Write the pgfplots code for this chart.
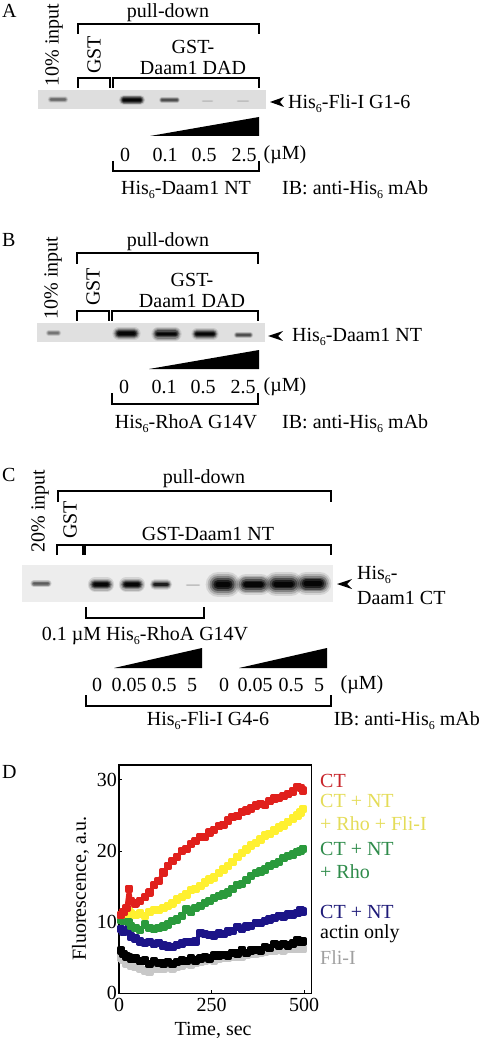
\documentclass[border=0pt]{standalone}
\usepackage{pgfplots}
\pgfplotsset{compat=1.18}
\usepackage{fontspec}
\setmainfont{Liberation Serif}
\definecolor{cRed}{HTML}{E0201C}
\definecolor{cYel}{HTML}{FFF030}
\definecolor{cGrn}{HTML}{2A9A3C}
\definecolor{cBlu}{HTML}{1C1488}
\definecolor{cGry}{HTML}{C8C8C8}
\definecolor{tRed}{HTML}{C8242A}
\definecolor{tYel}{HTML}{E4DC58}
\definecolor{tGrn}{HTML}{2E8B4A}
\definecolor{tBlu}{HTML}{1E1A78}
\definecolor{tGry}{HTML}{A0A0A0}
\newcommand{\six}{\raisebox{-4pt}{\fontsize{12}{12}\selectfont 6}}
\newcommand{\band}[5]{%
  \addplot[line cap=round, line width=#4*1.9, color=#5, opacity=.10, mark=none] coordinates {(#1,#3) (#2,#3)};
  \addplot[line cap=round, line width=#4*1.6, color=#5, opacity=.16, mark=none] coordinates {(#1,#3) (#2,#3)};
  \addplot[line cap=round, line width=#4*1.3, color=#5, opacity=.25, mark=none] coordinates {(#1,#3) (#2,#3)};
  \addplot[line cap=round, line width=#4*1.0, color=#5, opacity=.4, mark=none] coordinates {(#1,#3) (#2,#3)};
  \addplot[line cap=round, line width=#4*.7, color=#5, opacity=.6, mark=none] coordinates {(#1,#3) (#2,#3)};
  \addplot[line cap=round, line width=#4*.4, color=#5, opacity=.8, mark=none] coordinates {(#1,#3) (#2,#3)};
}
\pgfplotstableread{
t red yel grn blu blk gry
5 11 11 10.3 9 6 5
12 11.4 11.3 10.2 8.7 5.5 4.7
20 12 11.2 10.4 8.8 5.2 4.2
27 14.7 11.5 10 9.2 5.1 4.1
32 13 11.2 9.5 8 4.9 3.9
45 12.6 11 9.2 7.7 4.9 3.7
57 13 11.2 8.9 7.3 4.5 3.5
70 13.5 10.9 9.7 7.1 4.6 3.2
82 14.2 11.4 9.2 7.2 4.1 3.0
95 15.2 11.7 9 6.9 4.5 3.4
107 15.8 11.7 9.2 7.1 4.3 3.5
120 17 12 9.4 6.7 4.2 3.5
132 17.9 12.3 9.7 6.6 4.4 3.8
145 18.6 12.6 10.2 6.5 4.1 3.5
157 19.2 13.2 10.4 6.8 4.4 3.7
170 20 13.5 10.9 7 4.6 3.9
182 20.3 13.9 11.8 7.2 4.5 4.1
195 21 14.5 11.4 7.2 4.9 4
207 21.4 14.7 12 7.3 4.6 4.3
220 22 15.1 12.3 8.5 4.9 4.4
232 22 15.6 12.7 8.3 5.1 4.5
245 22.6 16 13 8.2 4.9 4.7
257 23 16.3 13.4 8.1 5.3 4.6
270 23.5 16.9 13.7 8.4 5.3 4.9
282 23.7 17.4 13.9 8.3 5.4 5
295 24.3 17.9 14.2 8.7 5.3 5
307 24.8 18.5 14.7 8.8 5.7 5.1
320 24.9 19.2 15.2 9.3 5.6 5.2
332 25.5 19.7 15.4 9 6.1 5.2
345 25.7 20.2 15.9 9.4 5.7 5.4
357 26 20.8 16.5 9.5 6 5.5
370 26.4 21.1 16.9 9.9 6.1 5.6
382 26.6 21.6 17.1 9.9 6 5.7
395 26.5 22.2 17.4 10.2 6.5 5.8
407 27 22.4 17.9 10.4 6.4 6
420 27.4 22.9 18.2 10.6 6.9 6
432 27.5 23.3 18.5 10.9 6.7 6.1
445 27.7 23.6 19 10.8 6.9 6
457 28 24.1 19.3 11.1 6.7 6.2
470 28.4 24.6 19.5 11.1 7 6.3
482 29 25 19.9 11.3 7.5 6.3
490 28.9 25.4 20 11.7 7.2 6.4
497 28.5 25.9 20.3 11.5 7.3 6.2
}\kinetics
\begin{document}
\begin{tikzpicture}
\useasboundingbox (0pt,0pt) rectangle (480pt,1040pt);
\begin{axis}[
  at={(0pt,0pt)}, anchor=south west,
  scale only axis, width=480pt, height=1040pt,
  xmin=0, xmax=480, ymin=0, ymax=1040, y dir=reverse,
  hide axis, clip=false,
  brk/.style={black, line width=1.3pt, mark=none, line join=miter},
  wedge/.style={black, fill=black, draw=none, mark=none},
  nodes={font=\fontsize{20}{20}\selectfont, inner sep=0pt, yshift=-2pt},
]
% panel A
\node[anchor=west] at (axis cs:2,9) {A};
\node[rotate=90] at (axis cs:54,43) {10\% input};
\node at (axis cs:168,11) {pull-down};
\addplot[brk] coordinates {(78,34) (78,24) (259,24) (259,34)};
\node[rotate=90] at (axis cs:94,53) {GST};
\node at (axis cs:193,45) {GST-};
\node at (axis cs:193,66) {Daam1 DAD};
\addplot[brk] coordinates {(78,88) (78,78) (110,78) (110,88)};
\addplot[brk] coordinates {(113,88) (113,78) (259,78) (259,88)};
\addplot[fill=black!13, draw=none, mark=none] coordinates {(38,90) (266,90) (266,109) (38,109)} --cycle;
\band{51}{65}{99.5}{3.5}{black!60}
\band{124}{140}{100}{5.5}{black}
\band{162}{177}{100}{3.2}{black!70}
\band{203}{212}{101}{1.4}{black!25}
\band{238}{248}{101}{1.4}{black!25}
\addplot[wedge] coordinates {(270,102) (284,97) (280,102) (284,107)} --cycle;
\node[anchor=west] at (axis cs:288,102) {His\six-Fli-I G1-6};
\addplot[wedge] coordinates {(150,136) (259,117) (259,136)} --cycle;
\node at (axis cs:125,153) {0};
\node at (axis cs:165,153) {0.1};
\node at (axis cs:204,153) {0.5};
\node at (axis cs:244,153) {2.5};
\node at (axis cs:285,153) {(µM)};
\addplot[brk] coordinates {(113,161) (113,171) (259,171) (259,161)};
\node at (axis cs:186,188) {His\six-Daam1 NT};
\node[anchor=west] at (axis cs:282,188) {IB: anti-His\six{} mAb};
% panel B
\node[anchor=west] at (axis cs:2,238) {B};
\node[rotate=90] at (axis cs:53,276) {10\% input};
\node at (axis cs:168,240) {pull-down};
\addplot[brk] coordinates {(77,264) (77,253) (258,253) (258,264)};
\node[rotate=90] at (axis cs:93,285) {GST};
\node at (axis cs:192,278) {GST-};
\node at (axis cs:192,299) {Daam1 DAD};
\addplot[brk] coordinates {(77,321) (77,311) (109,311) (109,321)};
\addplot[brk] coordinates {(112,321) (112,311) (258,311) (258,321)};
\addplot[fill=black!12, draw=none, mark=none] coordinates {(37,323) (265,323) (265,342) (37,342)} --cycle;
\band{49}{58}{333}{3.5}{black!55}
\band{119}{134}{333.5}{7}{black}
\band{158}{175}{334}{7}{black}
\band{197}{213}{334}{6}{black}
\band{237}{250}{335}{3.5}{black!70}
\addplot[wedge] coordinates {(268,336) (283,331) (278,336) (283,341)} --cycle;
\node[anchor=west] at (axis cs:292,335) {His\six-Daam1 NT};
\addplot[wedge] coordinates {(149,369) (259,350) (259,369)} --cycle;
\node at (axis cs:124,385) {0};
\node at (axis cs:164,385) {0.1};
\node at (axis cs:203,385) {0.5};
\node at (axis cs:243,385) {2.5};
\node at (axis cs:285,385) {(µM)};
\addplot[brk] coordinates {(112,393) (112,404) (258,404) (258,393)};
\node at (axis cs:186,422) {His\six-RhoA G14V};
\node[anchor=west] at (axis cs:282,422) {IB: anti-His\six{} mAb};
% panel C
\node[anchor=west] at (axis cs:2,473) {C};
\node[rotate=90] at (axis cs:40,509) {20\% input};
\node at (axis cs:204,477) {pull-down};
\addplot[brk] coordinates {(58,502) (58,491) (331,491) (331,502)};
\node[rotate=90] at (axis cs:70,518) {GST};
\node at (axis cs:208,532) {GST-Daam1 NT};
\addplot[brk] coordinates {(57,555) (57,545) (83,545) (83,555)};
\addplot[brk] coordinates {(85,555) (85,545) (331,545) (331,555)};
\addplot[fill=black!7, draw=none, mark=none] coordinates {(22,565) (333,565) (333,602) (22,602)} --cycle;
\band{34}{48}{583.5}{4}{black!65}
\band{95}{107}{584.5}{7.5}{black}
\band{126}{138}{584.5}{7.5}{black}
\band{155}{167}{584.5}{5.5}{black!90}
\band{187}{199}{585}{1.4}{black!25}
\band{218}{228}{584.5}{13}{black}
\band{246}{261}{584.5}{11}{black}
\band{276}{291}{584}{12.5}{black}
\band{306}{320}{583.5}{12}{black}
\addplot[wedge] coordinates {(337,584) (352,579) (347,584) (352,589)} --cycle;
\node[anchor=west] at (axis cs:357,573) {His\six-};
\node[anchor=west] at (axis cs:357,596) {Daam1 CT};
\addplot[brk] coordinates {(86,607) (86,618) (204,618) (204,607)};
\node at (axis cs:145,634) {0.1 µM His\six-RhoA G14V};
\addplot[wedge] coordinates {(114,668) (202,648) (202,668)} --cycle;
\addplot[wedge] coordinates {(239,668) (327,648) (327,668)} --cycle;
\node at (axis cs:97,683) {0};
\node at (axis cs:129,683) {0.05};
\node at (axis cs:164,683) {0.5};
\node at (axis cs:192,683) {5};
\node at (axis cs:224,683) {0};
\node at (axis cs:255,683) {0.05};
\node at (axis cs:291,683) {0.5};
\node at (axis cs:319,683) {5};
\node at (axis cs:362,683) {(µM)};
\addplot[brk] coordinates {(86,695) (86,706) (331,706) (331,695)};
\node at (axis cs:208,719) {His\six-Fli-I G4-6};
\node[anchor=east] at (axis cs:480,719) {IB: anti-His\six{} mAb};
% panel D labels
\node[anchor=west] at (axis cs:2,770) {D};
\node[anchor=west, text=tRed] at (axis cs:320,779) {CT};
\node[anchor=west, text=tYel] at (axis cs:320,799) {CT + NT};
\node[anchor=west, text=tYel] at (axis cs:320,822) {+ Rho + Fli-I};
\node[anchor=west, text=tGrn] at (axis cs:320,847) {CT + NT};
\node[anchor=west, text=tGrn] at (axis cs:320,870) {+ Rho};
\node[anchor=west, text=tBlu] at (axis cs:320,910) {CT + NT};
\node[anchor=west] at (axis cs:320,932) {actin only};
\node[anchor=west, text=tGry] at (axis cs:320,956) {Fli-I};
\end{axis}
\begin{axis}[
  at={(119pt,46.7pt)}, anchor=south west,
  scale only axis, width=192.7pt, height=228.3pt,
  xmin=0, xmax=520.8, ymin=0, ymax=32.1,
  xtick={0,250,500}, ytick={0,10,20,30},
  tick align=inside, major tick length=3pt,
  axis line style={line width=1.3pt}, tick style={black, line width=1pt},
  xtick pos=bottom, ytick pos=left,
  /pgf/number format/assume math mode=true,
  tick label style={font=\fontsize{20}{20}\selectfont, inner sep=2pt},
  xticklabel style={yshift=-3pt},
  label style={font=\fontsize{20}{20}\selectfont, inner sep=0pt},
  xlabel={Time, sec}, ylabel={Fluorescence, a.u.},
  xlabel style={at={(axis description cs:0.488,-0.162)}, anchor=center},
  ylabel style={at={(axis description cs:-0.2,0.46)}, anchor=center},
  kin/.style={line width=4pt, mark=square*, mark size=2.2pt, line join=round},
]
\addplot[kin, cGry, mark options={fill=cGry}] table[x=t, y=gry] {\kinetics};
\addplot[kin, black, mark options={fill=black}] table[x=t, y=blk] {\kinetics};
\addplot[kin, cBlu, mark options={fill=cBlu}] table[x=t, y=blu] {\kinetics};
\addplot[kin, cGrn, mark options={fill=cGrn}] table[x=t, y=grn] {\kinetics};
\addplot[kin, cYel, mark options={fill=cYel}] table[x=t, y=yel] {\kinetics};
\addplot[kin, cRed, mark options={fill=cRed}] table[x=t, y=red] {\kinetics};
\end{axis}
\end{tikzpicture}
\end{document}
